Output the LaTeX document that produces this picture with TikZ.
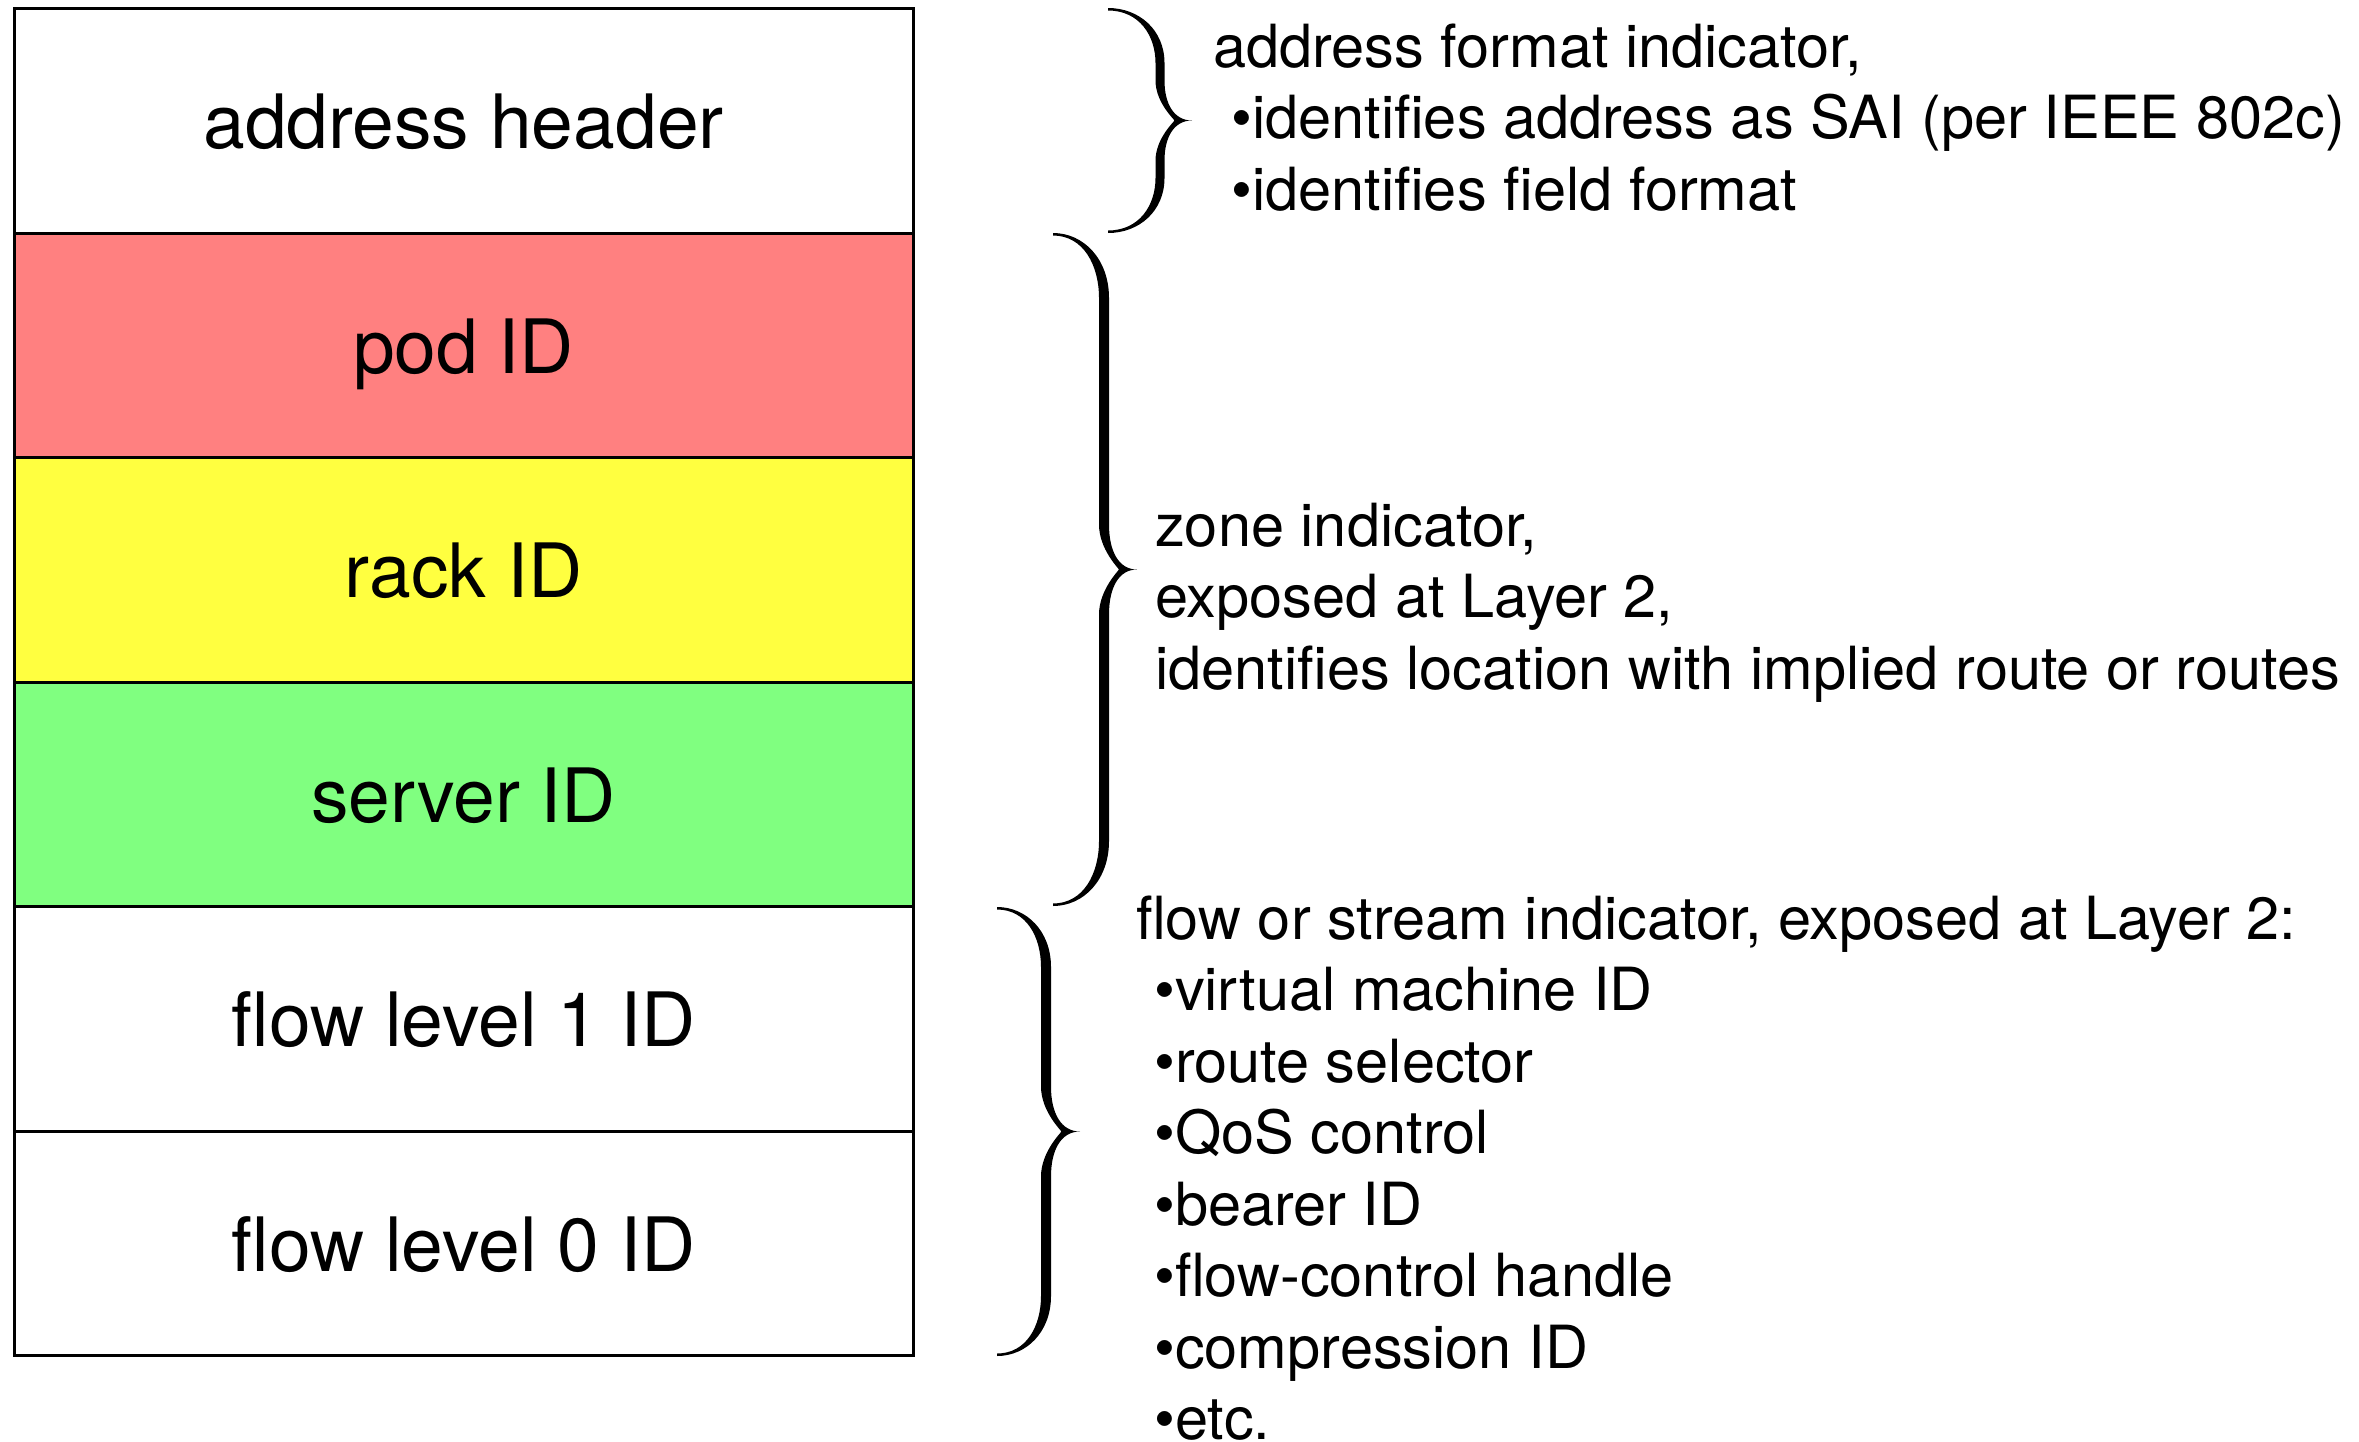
\documentclass[tikz,border=0pt]{standalone}
\usepackage{fontspec}
\setmainfont{TeX Gyre Heros}
\definecolor{podred}{RGB}{255,128,128}
\definecolor{rackyellow}{RGB}{255,255,64}
\definecolor{servergreen}{RGB}{128,255,128}
\tikzset{
  field/.style={draw=black, line width=3pt, minimum width=899pt, minimum height=224.5pt,
    inner sep=0pt, text height=56pt, text depth=0pt, font=\fontsize{75}{90}\selectfont},
  note/.style={anchor=base west, inner sep=0pt, font=\fontsize{59.5}{71.5}\selectfont},
}
% #1 end x, #2 spine x, #3 tip x, #4 top y, #5 bottom y, #6 half thickness, #7 end hook height, #8 tip curve height
\newcommand{\glyphbrace}[8]{%
  \pgfmathsetmacro\bym{(#4+#5)/2}%
  \pgfmathsetmacro\bxa{#1+0.6*(#2-#1)}%
  \pgfmathsetmacro\bxr{#2+#6}%
  \pgfmathsetmacro\bxl{#2-#6}%
  \pgfmathsetmacro\bxt{#2+0.45*(#3-#2)}%
  \pgfmathsetmacro\bxc{#2+0.45*(#3-#2)}%
  \pgfmathsetmacro\bya{#4+#7}%
  \pgfmathsetmacro\byb{\bym-#8}%
  \pgfmathsetmacro\byc{\bym+#8}%
  \pgfmathsetmacro\byd{#5-#7}%
  \fill (#1,#4) .. controls (\bxa,#4) and (\bxr,{#4+0.4*#7}) .. (\bxr,\bya)
    -- (\bxr,\byb) .. controls (\bxr,{\bym-0.4*#8}) and (\bxt,\bym) .. (#3,\bym)
    .. controls (\bxt,\bym) and (\bxr,{\bym+0.4*#8}) .. (\bxr,\byc)
    -- (\bxr,\byd) .. controls (\bxr,{#5-0.4*#7}) and (\bxa,#5) .. (#1,#5)
    -- (#1,{#5-2.5}) .. controls (\bxa,{#5-2.5}) and (\bxl,{#5-0.5*#7}) .. (\bxl,\byd)
    -- (\bxl,\byc) .. controls (\bxl,{\bym+0.45*#8}) and (\bxt,{\bym+1}) .. (\bxc,\bym)
    .. controls (\bxt,{\bym-1}) and (\bxl,{\bym-0.45*#8}) .. (\bxl,\byb)
    -- (\bxl,\bya) .. controls (\bxl,{#4+0.5*#7}) and (\bxa,{#4+2.5}) .. (#1,{#4+2.5}) -- cycle;
}
\begin{document}
\begin{tikzpicture}[x=1pt,y=-1pt]
\useasboundingbox (0,0) rectangle (2359,1441);
\fill[white] (0,0) rectangle (2359,1441);

% fields
\node[field, fill=white]       (hdr)    at (463.5,120.75)  {address header};
\node[field, fill=podred]      (pod)    at (463.5,345.25)  {pod ID};
\node[field, fill=rackyellow]  (rack)   at (463.5,569.75)  {rack ID};
\node[field, fill=servergreen] (server) at (463.5,794.25)  {server ID};
\node[field, fill=white]       (flow1)  at (463.5,1018.75) {flow level 1 ID};
\node[field, fill=white]       (flow0)  at (463.5,1243.25) {flow level 0 ID};

% braces
\glyphbrace{1108}{1160}{1192}{8}{233}{4.5}{55}{40}
\glyphbrace{1053}{1104}{1137}{233}{906}{5}{65}{45}
\glyphbrace{997}{1046}{1080}{907}{1356}{5}{60}{45}

% address format notes
\node[note] (addr0) at (1213,67) {address format indicator,};
\foreach \t [count=\i] in {{•identifies address as SAI (per IEEE 802c)}, {•identifies field format}}
  \node[note] (addr\i) at (1231,{67+\i*71.5}) {\t};

% zone notes
\foreach \t [count=\i] in {{zone indicator,}, {exposed at Layer 2,}, {identifies location with implied route or routes}}
  \node[note] (zone\i) at (1155,{546+(\i-1)*71.5}) {\t};

% flow notes
\node[note] (fl0) at (1136,939) {flow or stream indicator, exposed at Layer 2:};
\foreach \t [count=\i] in {{•virtual machine ID}, {•route selector}, {•QoS control}, {•bearer ID}, {•flow-control handle}, {•compression ID}, {•etc.}}
  \node[note] (fl\i) at (1154,{939+\i*71.5}) {\t};
\end{tikzpicture}
\end{document}
